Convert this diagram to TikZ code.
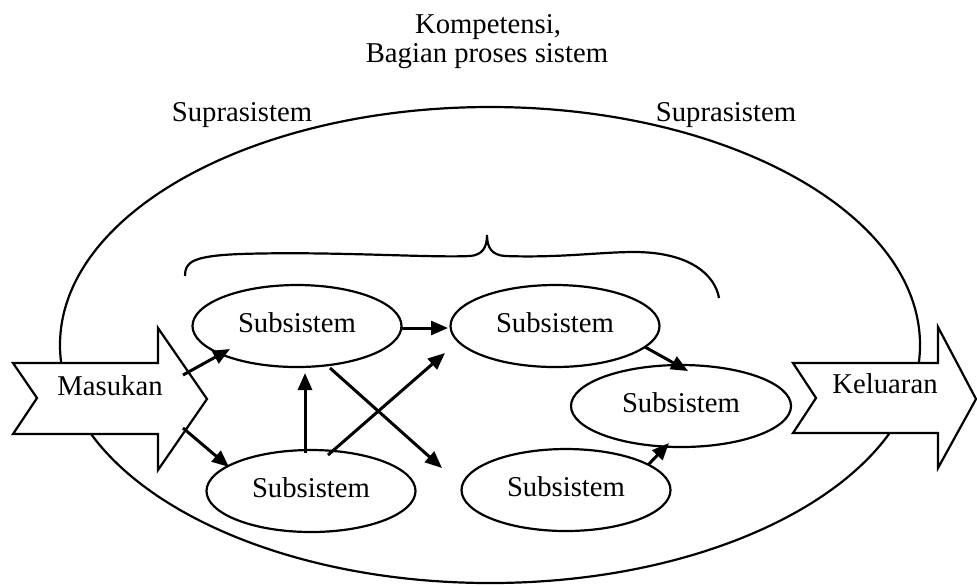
\documentclass[tikz,border=0pt]{standalone}
\usepackage{fontspec}
\setmainfont{Liberation Serif}
\usetikzlibrary{arrows.meta,shapes.geometric}
\begin{document}
\begin{tikzpicture}[x=0.5pt,y=-0.5pt,
  lbl/.style={font=\fontsize{14.35}{15}\selectfont, inner sep=0pt},
  sub/.style={draw, line width=1.1pt, ellipse, inner sep=0pt,
    minimum width=104.5pt, minimum height=41pt,
    text height=8pt, text depth=2pt, font=\fontsize{14.35}{15}\selectfont},
  arr/.style={line width=1.5pt, -{Triangle[length=8.5pt,width=7pt]}},
  blockarrow/.style={draw, fill=white, line width=1.1pt, line join=miter},
  ]
\useasboundingbox (0,0) rectangle (977,586);

% outer system
\node[draw, ellipse, line width=1.1pt, inner sep=0pt,
      minimum width=430pt, minimum height=238pt] (S) at (490,345) {};

% titles
\node[lbl, anchor=base] (T1) at (488,33) {Kompetensi,};
\node[lbl, anchor=base] (T2) at (487,62) {Bagian proses sistem};
\node[lbl, anchor=base] (SL) at (242,121) {Suprasistem};
\node[lbl, anchor=base] (SR) at (726,121) {Suprasistem};

% brace
\draw[line width=1.1pt] (185,276) .. controls (185,262) and (192,256) .. (240,254)
  .. controls (330,251) and (430,258) .. (470,256)
  .. controls (482,255) and (487,248) .. (487,235)
  .. controls (487,248) and (492,255) .. (505,256)
  .. controls (560,258) and (600,252) .. (634,252)
  .. controls (690,252) and (715,275) .. (719,298);

% input / output block arrows
\draw[blockarrow] (13,363) -- (158,363) -- (158,328) -- (207,399) -- (158,470)
  -- (158,434) -- (13,434) -- (37,398) -- cycle;
\draw[blockarrow] (793,363) -- (938,363) -- (938,327) -- (976,399) -- (938,468)
  -- (938,433) -- (793,433) -- (816,398) -- cycle;
\node[lbl, anchor=base] (IN) at (110,395) {Masukan};
\node[lbl, anchor=base] (OUT) at (885,393) {Keluaran};
\coordinate (m1) at (183,375);
\coordinate (m2) at (183,428);

% subsystems
\node[sub] (A) at (297,326) {Subsistem};
\node[sub] (B) at (555,326) {Subsistem};
\node[sub, minimum width=110pt] (C) at (681,406) {Subsistem};
\node[sub] (D) at (311,491) {Subsistem};
\node[sub] (E) at (566,490) {Subsistem};

% connectors
\draw[arr] (m1) -- ([shift={(-67,23)}]A.center);
\draw[arr] (m2) -- ([shift={(-82,-24)}]D.center);
\draw[arr] ([shift={(105,2)}]A.center) -- ([shift={(-107,2)}]B.center);
\draw[arr] ([shift={(-6,-38)}]D.center) -- ([shift={(8,47)}]A.center);
\draw[arr] ([shift={(17,-36)}]D.center) -- ([shift={(-110,27)}]B.center);
\draw[arr] ([shift={(33,42)}]A.center) -- ([shift={(-124,-22)}]E.center);
\draw[arr] ([shift={(90,21)}]B.center) -- ([shift={(7,-35)}]C.center);
\draw[arr] ([shift={(82,-25)}]E.center) -- ([shift={(-12,37)}]C.center);
\end{tikzpicture}
\end{document}
